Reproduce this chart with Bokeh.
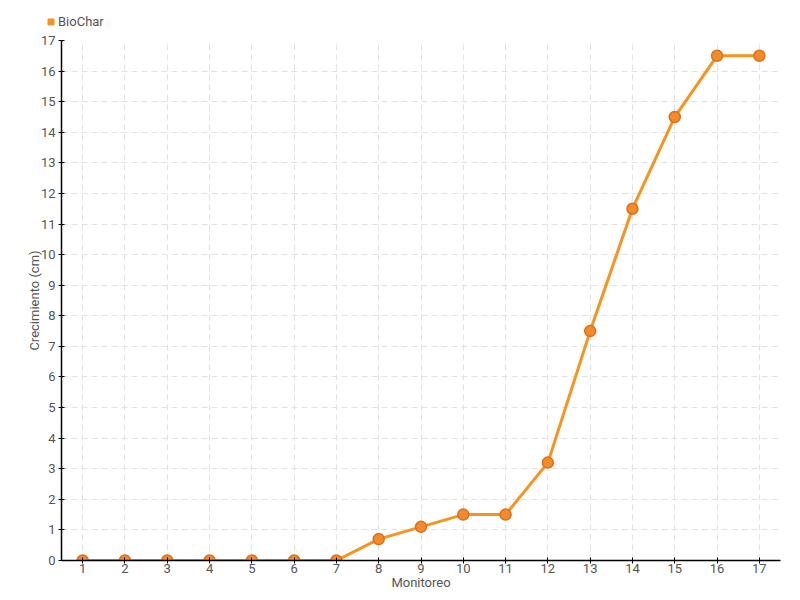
from bokeh.plotting import figure
from bokeh.layouts import column
from bokeh.models import FixedTicker, Range1d, Legend, LegendItem
from bokeh.embed import file_html
from bokeh.resources import INLINE

monitoreo = list(range(1, 18))
biochar = [0, 0, 0, 0, 0, 0, 0, 0.7, 1.1, 1.5, 1.5, 3.2, 7.5, 11.5, 14.5, 16.5, 16.5]
y_ticks = list(range(0, 18))
series_name = "BioChar"

FONT = "Roboto"
TXT = "#555555"
ORANGE = "#f7931e"

# legend strip on top (its view range excludes the data, so only the legend shows)
top = figure(width=800, height=30, output_backend="svg", toolbar_location=None,
             x_range=Range1d(100, 101), y_range=Range1d(100, 101),
             x_axis_location=None, y_axis_location=None,
             min_border_left=43, min_border_right=0, min_border_top=12, min_border_bottom=0)
top.outline_line_color = None
top.xgrid.visible = False
top.ygrid.visible = False
if "frame_align" in top.properties():
    top.frame_align = False
leg_r = top.scatter(x=monitoreo, y=biochar, marker="square", fill_color=ORANGE, line_color=ORANGE)
legend = Legend(items=[LegendItem(label=series_name, renderers=[leg_r])],
                location="top_left", padding=0, margin=0, spacing=0,
                glyph_width=15, glyph_height=15, label_standoff=0, label_height=18,
                label_text_font=FONT, label_text_font_size="13px", label_text_color=TXT,
                background_fill_alpha=0, border_line_color=None)
top.add_layout(legend, "center")

p = figure(width=800, height=570, output_backend="svg", toolbar_location=None,
           x_range=Range1d(0.5, 17.5), y_range=Range1d(0, 17),
           min_border_left=61, min_border_right=20, min_border_top=10, min_border_bottom=40)
p.outline_line_color = None
if "frame_align" in p.properties():
    p.frame_align = False

for ax in (p.xaxis[0], p.yaxis[0]):
    ax.axis_line_color = "black"
    ax.axis_line_width = 1.5
    ax.major_tick_line_color = "black"
    ax.major_tick_in = 3
    ax.major_tick_out = 3
    ax.minor_tick_line_color = None
    ax.major_label_text_font = FONT
    ax.major_label_text_font_size = "13px"
    ax.major_label_text_color = TXT
    ax.axis_label_text_font = FONT
    ax.axis_label_text_font_size = "13px"
    ax.axis_label_text_color = TXT
    ax.axis_label_text_font_style = "normal"

p.xaxis.ticker = FixedTicker(ticks=monitoreo)
p.yaxis.ticker = FixedTicker(ticks=y_ticks)
p.xaxis.axis_label = "Monitoreo"
p.yaxis.axis_label = "Crecimiento (cm)"
p.xaxis.major_label_standoff = 0
p.yaxis.major_label_standoff = 3
p.xaxis.axis_label_standoff = -1
p.yaxis.axis_label_standoff = -4

for g in (p.xgrid[0], p.ygrid[0]):
    g.grid_line_color = "#e2e2e2"
    g.grid_line_dash = "6 4"
    g.grid_line_width = 1

p.line(monitoreo, biochar, line_color=ORANGE, line_width=3)
p.scatter(monitoreo, biochar, size=11, fill_color="#f58a2a", line_color="#d9721c", line_width=1.5)

layout = column(top, p, spacing=0)
open("out.html", "w").write(file_html(layout, INLINE))
